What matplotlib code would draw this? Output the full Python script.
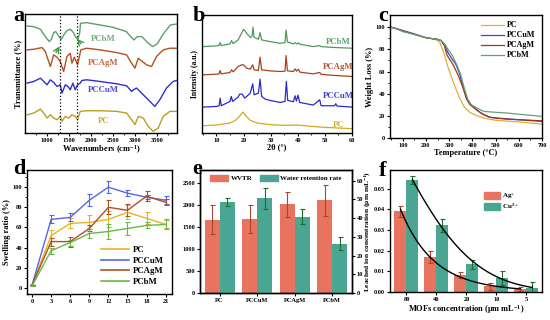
import numpy as np
import matplotlib
matplotlib.use("Agg")
import matplotlib.pyplot as plt
from matplotlib.patches import Patch
from matplotlib.lines import Line2D

plt.rcParams['font.family'] = ['Liberation Serif', 'DejaVu Serif']
plt.rcParams['font.weight'] = 'bold'
plt.rcParams['axes.labelweight'] = 'bold'
plt.rcParams['axes.linewidth'] = 1.0
plt.rcParams['mathtext.fontset'] = 'custom'
plt.rcParams['mathtext.rm'] = 'Liberation Serif:bold'
plt.rcParams['mathtext.it'] = 'Liberation Serif:bold:italic'
plt.rcParams['mathtext.bf'] = 'Liberation Serif:bold'
plt.rcParams['mathtext.default'] = 'bf'

names = ['PC', 'PCCuM', 'PCAgM', 'PCbM']

# ---- a: FTIR (wavenumber, transmittance a.u.)
ftir_pcbm_x = [550, 700, 850, 950, 1050, 1100, 1150, 1200, 1260, 1320, 1380, 1450, 1530, 1600, 1650, 1700,
               1740, 1760, 1900, 2200, 2500, 2800, 2900, 2970, 3050, 3150, 3300, 3400, 3500, 3650, 3800, 3950]
ftir_pcbm_y = [322, 320, 312, 292, 275, 282, 302, 305, 292, 282, 295, 308, 312, 302, 288, 282,
               300, 330, 332, 325, 318, 305, 290, 280, 290, 290, 270, 260, 268, 300, 325, 328]
ftir_pcagm_x = [548, 699, 887, 962, 1075, 1151, 1226, 1301, 1377, 1452, 1527, 1565, 1617, 1693, 1768, 1904,
                2205, 2581, 2807, 2920, 2995, 3071, 3259, 3372, 3485, 3636, 3786, 3937]
ftir_pcagm_y = [250, 252, 257, 245, 200, 235, 228, 215, 185, 230, 240, 210, 228, 205, 250, 255,
                250, 242, 235, 210, 195, 225, 205, 200, 230, 250, 255, 255]
ftir_pccum_x = [548, 699, 849, 925, 1000, 1075, 1151, 1226, 1301, 1340, 1415, 1490, 1527, 1587, 1640, 1693,
                1753, 1790, 1904, 2205, 2581, 2807, 2920, 2958, 3033, 3108, 3259, 3372, 3447, 3560, 3711, 3861, 3937]
ftir_pccum_y = [150, 155, 165, 155, 145, 160, 152, 140, 145, 120, 145, 138, 130, 150, 130, 145,
                150, 158, 160, 155, 148, 142, 125, 130, 135, 125, 105, 90, 80, 100, 135, 155, 158]
ftir_pc_x = [548, 699, 849, 925, 1000, 1075, 1151, 1226, 1301, 1340, 1415, 1490, 1565, 1640, 1693, 1753,
             1904, 2205, 2581, 2807, 2920, 2995, 3071, 3184, 3297, 3410, 3523, 3636, 3786, 3937]
ftir_pc_y = [55, 60, 72, 60, 45, 55, 45, 40, 50, 35, 50, 45, 55, 50, 40, 65,
             67, 67, 65, 60, 40, 25, 50, 45, 20, 5, 15, 50, 65, 65]

# ---- b: XRD (2theta, intensity a.u.)
xrd_pcbm_x = [5.3, 10, 11.0, 11.4, 11.8, 15.0, 15.6, 16.2, 18.0, 19.3, 20.0, 21.2, 22.5, 23.1, 23.5, 23.9,
              25.5, 26.1, 26.7, 29.8, 33.5, 35.3, 35.7, 36.2, 38.4, 39.0, 39.6, 40.2, 40.8, 45.7, 48.1, 48.5, 51.8, 60]
xrd_pcbm_y = [260, 262, 264, 272, 263, 268, 278, 269, 280, 300, 312, 300, 287, 290, 318, 288,
              282, 302, 280, 275, 270, 272, 310, 274, 268, 272, 268, 271, 267, 260, 263, 260, 258, 255]
xrd_pcagm_x = [5.3, 10, 11.0, 11.4, 11.8, 15.0, 15.6, 16.2, 18.0, 19.3, 20.0, 21.2, 22.5, 23.4, 23.9, 25.5,
               26.1, 26.7, 29.8, 33.5, 35.3, 35.7, 36.2, 38.4, 39.0, 39.6, 40.2, 40.8, 45.7, 48.1, 48.5, 51.8, 60]
xrd_pcagm_y = [175, 177, 178, 188, 178, 182, 190, 184, 200, 205, 205, 195, 192, 205, 190, 188,
               228, 190, 187, 185, 186, 233, 187, 185, 193, 186, 192, 183, 178, 182, 177, 174, 170]
xrd_pccum_x = [5.3, 10, 11.0, 11.4, 11.8, 15.0, 15.5, 16.0, 18.0, 18.6, 19.5, 20.5, 22.5, 23.4, 23.9, 25.5,
               26.1, 26.7, 28.0, 29.8, 33.5, 35.3, 35.8, 36.3, 38.4, 39.0, 39.5, 40.1, 40.7, 45.7, 48.1, 48.6,
               53.5, 54.0, 54.5, 60]
xrd_pccum_y = [78, 80, 82, 105, 82, 95, 110, 95, 108, 117, 117, 105, 120, 148, 115, 120,
               162, 110, 102, 98, 92, 95, 155, 98, 94, 112, 96, 114, 92, 84, 100, 82,
               82, 88, 81, 78]
xrd_pc_x = [5.3, 10, 15.0, 17.0, 18.5, 19.8, 20.8, 22.5, 25.0, 30, 35, 40, 45, 50, 55, 60]
xrd_pc_y = [22, 24, 30, 38, 50, 63, 52, 38, 30, 25, 23, 24, 20, 17, 15, 13]

# ---- c: TGA (temperature, weight %)
tga_pc_x = [50, 75, 100, 150, 200, 230, 250, 260, 275, 295, 320, 345, 365, 390, 420, 460, 500, 600, 700]
tga_pc_y = [100, 98.5, 96.5, 93.5, 90.5, 89.5, 88, 86, 78, 64, 49, 36, 28, 23, 20, 17.5, 16, 14.5, 12.5]
tga_pccum_x = [50, 75, 100, 150, 200, 250, 265, 280, 295, 310, 330, 345, 360, 375, 390, 410, 440, 470, 500, 600, 700]
tga_pccum_y = [100, 98.5, 97, 94, 90.5, 89, 88, 84, 77, 72, 66, 58, 46, 36, 31, 27, 22, 19, 18, 16.5, 15]
tga_pcagm_x = [50, 75, 100, 150, 200, 250, 265, 280, 290, 305, 320, 340, 360, 375, 390, 420, 450, 480, 550, 700]
tga_pcagm_y = [100, 98.5, 96.5, 93.5, 90.5, 89, 88, 83, 75, 70, 65, 56, 45, 35, 30, 25, 21, 18.5, 17, 15.5]
tga_pcbm_x = [50, 75, 100, 150, 200, 250, 265, 280, 295, 315, 335, 350, 365, 380, 395, 420, 450, 480, 550, 600, 700]
tga_pcbm_y = [100, 98.5, 96, 93.5, 90.5, 89, 88, 85, 80, 74, 65, 57, 45, 35, 30, 27, 24, 23.5, 22.5, 21.5, 19.5]

# ---- d: swelling ratio
days = [0, 3, 6, 9, 12, 15, 18, 21]
swell_pc = [3, 52, 64, 65, 68, 75, 69, 63]
swell_pc_err = [0, 5, 5, 7, 8, 7, 6, 4]
swell_pccum = [3, 68, 70, 87, 100, 94, 90, 87]
swell_pccum_err = [0, 4, 4, 6, 6, 3, 2, 4]
swell_pcagm = [3, 46, 46, 59, 80, 77, 91, 85]
swell_pcagm_err = [0, 4, 5, 3, 7, 6, 5, 3]
swell_pcbm = [2, 37, 45, 54, 56, 59, 62, 63]
swell_pcbm_err = [0, 3, 3, 4, 7, 6, 3, 5]

# ---- e: WVTR and water retention
wvtr = [1665, 1670, 2010, 2105]
wvtr_err = [330, 320, 290, 350]
retention = [48.8, 50.5, 40.8, 26.4]
retention_err = [2.2, 5.6, 4.0, 3.6]

# ---- f: leached ions
mof_conc = ['80', '40', '20', '10', '5']
ag_ion = [0.039, 0.0169, 0.0081, 0.0027, 0.0016]
ag_ion_err = [0.0025, 0.003, 0.0015, 0.0017, 0.001]
cu_ion = [0.054, 0.0323, 0.0134, 0.0068, 0.0021]
cu_ion_err = [0.002, 0.0032, 0.0022, 0.0032, 0.0026]

W, H = 550, 320
fig = plt.figure(figsize=(5.5, 3.2), dpi=100)


def box(l, t, r, b):
    return fig.add_axes([l / W, 1 - b / H, (r - l) / W, (b - t) / H])


tick_fs = 4.6
lab_fs = 6
red, teal = '#E8735F', '#4AA593'


def style(ax):
    ax.tick_params(direction='out', length=2, width=0.8, labelsize=tick_fs, pad=1.5)
    ax.tick_params(which='minor', direction='out', length=1.2, width=0.6)
    for lab in ax.get_xticklabels() + ax.get_yticklabels():
        lab.set_fontweight('bold')


# a
ax = box(25, 14, 177, 133)
cols_a = {'PCbM': '#5E9E6A', 'PCAgM': '#B5501E', 'PCCuM': '#2F2FC8', 'PC': '#B8A022'}
ax.plot(ftir_pcbm_x, ftir_pcbm_y, color=cols_a['PCbM'], lw=1)
ax.plot(ftir_pcagm_x, ftir_pcagm_y, color=cols_a['PCAgM'], lw=1)
ax.plot(ftir_pccum_x, ftir_pccum_y, color=cols_a['PCCuM'], lw=1)
ax.plot(ftir_pc_x, ftir_pc_y, color=cols_a['PC'], lw=1)
ax.axvline(1301, color='k', ls=':', lw=0.9)
ax.axvline(1678, color='k', ls=':', lw=0.9)
for nm, yy in [('PCbM', 283), ('PCAgM', 212), ('PCCuM', 130), ('PC', 35)]:
    ax.text(2280, yy, nm, color=cols_a[nm], fontsize=6.3, ha='center', va='center', alpha=0.85)
ax.annotate('', xy=(1316, 268), xytext=(1173, 235),
            arrowprops=dict(arrowstyle='->', color='#3C9C3C', lw=1))
ax.annotate('', xy=(1640, 290), xytext=(1810, 262),
            arrowprops=dict(arrowstyle='->', color='#3C9C3C', lw=1))
ax.set_xlim(500, 3950)
ax.set_ylim(0, 358)
ax.set_yticks([])
ax.set_xticks([1000, 1500, 2000, 2500, 3000, 3500])
ax.set_xticks(np.arange(750, 3950, 500), minor=True)
ax.set_xlabel('Wavenumbers (cm$^{-1}$)', fontsize=lab_fs, labelpad=0.5)
ax.set_ylabel('Transmittance (%)', fontsize=lab_fs, labelpad=2)
style(ax)
fig.text(13 / W, 1 - 21 / H, 'a', fontsize=16, fontweight='bold')

# b
ax = box(202, 15, 352, 133)
cols_b = {'PCbM': '#4E9A5A', 'PCAgM': '#A8441A', 'PCCuM': '#2A2ACC', 'PC': '#D4A820'}
ax.plot(xrd_pcbm_x, xrd_pcbm_y, color=cols_b['PCbM'], lw=0.9)
ax.plot(xrd_pcagm_x, xrd_pcagm_y, color=cols_b['PCAgM'], lw=0.9)
ax.plot(xrd_pccum_x, xrd_pccum_y, color=cols_b['PCCuM'], lw=0.9)
ax.plot(xrd_pc_x, xrd_pc_y, color=cols_b['PC'], lw=0.9)
for nm, yy in [('PCbM', 275), ('PCAgM', 200), ('PCCuM', 110), ('PC', 25)]:
    ax.text(55, yy, nm, color=cols_b[nm], fontsize=6.3, ha='center', va='center', alpha=0.9)
ax.set_xlim(4.7, 60)
ax.set_ylim(0, 355)
ax.set_yticks([])
ax.set_xticks([10, 20, 30, 40, 50, 60])
ax.set_xticks(np.arange(5, 60, 5), minor=True)
ax.set_xlabel('2θ (°)', fontsize=lab_fs, labelpad=0.5)
ax.set_ylabel('Intensity (a.u.)', fontsize=lab_fs - 0.5, labelpad=2)
style(ax)
fig.text(193 / W, 1 - 21 / H, 'b', fontsize=16, fontweight='bold')

# c
ax = box(390, 15, 542, 138)
cols_c = {'PC': '#E0B030', 'PCCuM': '#4444C4', 'PCAgM': '#A03818', 'PCbM': '#62A274'}
ax.plot(tga_pc_x, tga_pc_y, color=cols_c['PC'], lw=0.9, label='PC')
ax.plot(tga_pccum_x, tga_pccum_y, color=cols_c['PCCuM'], lw=0.9, label='PCCuM')
ax.plot(tga_pcagm_x, tga_pcagm_y, color=cols_c['PCAgM'], lw=0.9, label='PCAgM')
ax.plot(tga_pcbm_x, tga_pcbm_y, color=cols_c['PCbM'], lw=0.9, label='PCbM')
ax.legend(loc='upper right', frameon=False, fontsize=5.8, handlelength=2.8,
          labelspacing=0.25, borderaxespad=0.4, handletextpad=0.4)
ax.set_xlim(45, 700)
ax.set_ylim(0, 111)
ax.set_xticks(range(100, 701, 100))
ax.set_xticks(range(50, 700, 50), minor=True)
ax.set_yticks(range(0, 101, 20))
ax.set_yticks(range(10, 101, 20), minor=True)
ax.set_xlabel('Temperature (°C)', fontsize=lab_fs, labelpad=0.5)
ax.set_ylabel('Weight Loss (%)', fontsize=lab_fs, labelpad=1)
style(ax)
fig.text(378 / W, 1 - 21 / H, 'c', fontsize=16, fontweight='bold')

# d
ax = box(27, 170, 172, 294)
cols_d = {'PC': '#E6B422', 'PCCuM': '#5566E6', 'PCAgM': '#B0501E', 'PCbM': '#66BB44'}
handles = []
for nm, ys, es in [('PC', swell_pc, swell_pc_err), ('PCCuM', swell_pccum, swell_pccum_err),
                   ('PCAgM', swell_pcagm, swell_pcagm_err), ('PCbM', swell_pcbm, swell_pcbm_err)]:
    ax.errorbar(days, ys, yerr=es, color=cols_d[nm], lw=1, elinewidth=0.8, capsize=1.8,
                capthick=0.8)
    handles.append(Line2D([], [], color=cols_d[nm], lw=1.2, label=nm))
ax.legend(handles=handles, loc='lower right', frameon=False, fontsize=6.3, handlelength=3.2,
          labelspacing=0.3, borderaxespad=0.5, handletextpad=0.5)
ax.set_xlim(-0.8, 22)
ax.set_ylim(-6, 117)
ax.set_xticks(days)
ax.set_yticks(range(0, 101, 20))
ax.set_yticks(range(10, 111, 20), minor=True)
ax.set_ylabel('Swelling ratio (%)', fontsize=lab_fs, labelpad=1)
style(ax)
fig.text(13 / W, 1 - 174 / H, 'd', fontsize=16, fontweight='bold')

# e
ax = box(200, 170, 352, 293)
x = np.arange(len(names))
bw = 0.4
ax.bar(x - bw / 2, wvtr, bw, color=red, label='WVTR')
ax.errorbar(x - bw / 2, wvtr, yerr=wvtr_err, fmt='none', ecolor='#A8452E', elinewidth=0.8,
            capsize=1.8, capthick=0.8)
ax.set_xlim(-0.52, 3.53)
ax.set_ylim(0, 2790)
ax.set_yticks(range(0, 2501, 500))
ax.set_xticks(x)
ax.set_xticklabels(names)
style(ax)
ax2 = ax.twinx()
ax2.bar(x + bw / 2, retention, bw, color=teal, label='Water retention rate')
ax2.errorbar(x + bw / 2, retention, yerr=retention_err, fmt='none', ecolor='#1E6E2A',
             elinewidth=0.8, capsize=1.8, capthick=0.8)
ax2.set_ylim(0, 65.7)
ax2.set_yticks(range(0, 61, 10))
style(ax2)
ax.legend(handles=[Patch(color=red, label='WVTR'), Patch(color=teal, label='Water retention rate')],
          loc='upper center', ncol=2, frameon=False, fontsize=5, handlelength=2.6,
          handleheight=1.0, columnspacing=1.0, borderaxespad=0.3, handletextpad=0.4)
fig.text(192 / W, 1 - 174 / H, 'e', fontsize=16, fontweight='bold')

# f
ax = box(390, 170, 542, 292)
x = np.arange(len(mof_conc))
ax.bar(x - 0.2, ag_ion, 0.4, color=red)
ax.errorbar(x - 0.2, ag_ion, yerr=ag_ion_err, fmt='none', ecolor='#A8452E', elinewidth=0.8,
            capsize=1.8, capthick=0.8)
ax.bar(x + 0.2, cu_ion, 0.4, color=teal)
ax.errorbar(x + 0.2, cu_ion, yerr=cu_ion_err, fmt='none', ecolor='#1E6E2A', elinewidth=0.8,
            capsize=1.8, capthick=0.8)
# smooth decay trends fitted to the bar tops
for xs, ys in [(x - 0.2, ag_ion), (x + 0.2, cu_ion)]:
    p = np.polyfit(xs, np.log(ys), 2)
    xf = np.linspace(xs[0], xs[-1], 100)
    ax.plot(xf, np.exp(np.polyval(p, xf)), color='k', lw=1)
ax.legend(handles=[Patch(color=red, label='Ag$^{+}$'), Patch(color=teal, label='Cu$^{2+}$')],
          loc='upper left', bbox_to_anchor=(0.58, 0.88), frameon=False, fontsize=5,
          handlelength=2.2, handleheight=1.1, labelspacing=0.1, handletextpad=0.4)
ax.set_xlim(-0.55, 4.52)
ax.set_ylim(0, 0.059)
ax.set_xticks(x)
ax.set_xticklabels(mof_conc)
ax.set_yticks([0, 0.01, 0.02, 0.03, 0.04, 0.05])
ax.yaxis.set_major_formatter(matplotlib.ticker.FormatStrFormatter('%.2f'))
ax.set_xlabel('MOFs concentration (μm mL$^{-1}$)', fontsize=lab_fs, labelpad=0.5)
ax.set_ylabel('Leached ion concentration (μm mL$^{-1}$)', fontsize=5.3, labelpad=1)
style(ax)
fig.text(379 / W, 1 - 176 / H, 'f', fontsize=16, fontweight='bold')

fig.savefig('out.png', dpi=100)
